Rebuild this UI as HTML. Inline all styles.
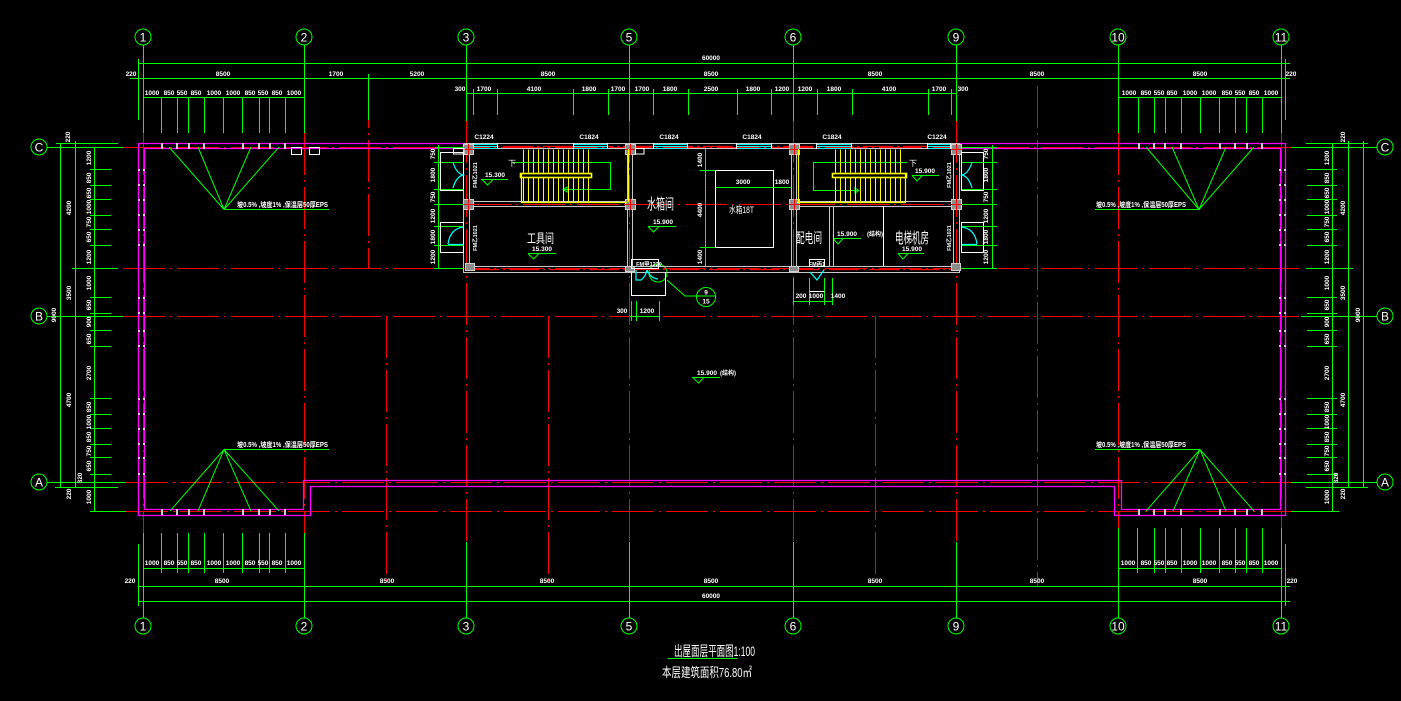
<!DOCTYPE html>
<html><head><meta charset="utf-8"><style>
html,body{margin:0;padding:0;background:#000;}
svg{display:block;}
text{font-family:"Liberation Sans","Noto Sans CJK SC",sans-serif;fill:#fff;}
.d{font-size:6.5px;font-weight:bold;text-anchor:middle;}
.g{font-size:12px;text-anchor:middle;}
.c{font-family:"Noto Sans CJK SC","WenQuanYi Zen Hei",sans-serif;}
</style></head><body>
<svg width="1401" height="701" viewBox="0 0 1401 701" xmlns="http://www.w3.org/2000/svg">
<defs>
<pattern id="trL" patternUnits="userSpaceOnUse" x="523" y="0" width="5" height="40"><path d="M0.5 0V40" stroke="#ff0" stroke-width="1"/></pattern>
<pattern id="trR" patternUnits="userSpaceOnUse" x="835" y="0" width="5" height="40"><path d="M0.5 0V40" stroke="#ff0" stroke-width="1"/></pattern>
</defs>
<rect width="1401" height="701" fill="#000"/>

<!-- RED AXIS LINES -->
<g stroke="#f00" stroke-width="1" fill="none" stroke-dasharray="42 5 2 5">
<path d="M123 147.5H1291M123 268.5H1300M123 316.5H1300M126 482.5H1295M126 511.5H1295M469 204.5H954"/>
<path d="M143.5 133V533M304.5 133V533M368.5 86V268M386.5 316V587M466.5 121V542M548.5 316V587M629.5 121V542M793.5 121V542M875.5 316V587M956.5 121V542M1037.5 86V587M1118.5 133V528M1281.5 133V528"/>
</g>

<!-- MAGENTA OUTLINE -->
<g stroke="#f0f" stroke-width="1.3" fill="none">
<path d="M463 143.5H138.5V515.5H310.5V486.5H1114.5V515.5H1285.5V143.5H960"/>
<path d="M463 148.5H144.5V509.5H303.5V480.5H1121.5V509.5H1280.5V148.5H960"/>
</g>

<!-- white marks on parapet -->
<g stroke="#fff" stroke-width="1.6">
<path d="M162 143V149M177 143V149M189 143V149M204 143V149M243 143V149M259 143V149M270 143V149M285 143V149"/>
<path d="M1139 143V149M1154 143V149M1165 143V149M1181 143V149M1220 143V149M1235 143V149M1247 143V149M1262 143V149"/>
<path d="M162 509V515M177 509V515M189 509V515M204 509V515M243 509V515M259 509V515M270 509V515M285 509V515"/>
<path d="M1139 509V515M1154 509V515M1165 509V515M1181 509V515M1220 509V515M1235 509V515M1247 509V515M1262 509V515"/>
</g>
<g stroke="#fff" stroke-width="1.6" stroke-dasharray="2 3">
<path d="M138 170H145M138 185H145M138 200H145M138 215H145M138 230H145M138 245H145M138 298H145M138 313H145M138 331H145M138 346H145M138 399H145M138 414H145M138 429H145M138 444H145M138 458H145M138 474H145"/>
<path d="M1279 170H1286M1279 185H1286M1279 200H1286M1279 215H1286M1279 230H1286M1279 245H1286M1279 298H1286M1279 313H1286M1279 331H1286M1279 346H1286M1279 399H1286M1279 414H1286M1279 429H1286M1279 444H1286M1279 458H1286M1279 474H1286"/>
</g>
<g stroke="#fff" stroke-width="1" fill="none">
<rect x="291.5" y="147.5" width="10" height="7"/><rect x="309.5" y="147.5" width="10" height="7"/>
</g>

<!-- GREEN GRID / DIM LINES -->
<g stroke="#0f0" stroke-width="1" fill="none">
<circle cx="143" cy="37" r="8"/><circle cx="304" cy="37" r="8"/><circle cx="466" cy="37" r="8"/><circle cx="629" cy="37" r="8"/><circle cx="793" cy="37" r="8"/><circle cx="956" cy="37" r="8"/><circle cx="1118" cy="37" r="8"/><circle cx="1281" cy="37" r="8"/>
<circle cx="143" cy="626" r="8"/><circle cx="304" cy="626" r="8"/><circle cx="466" cy="626" r="8"/><circle cx="629" cy="626" r="8"/><circle cx="793" cy="626" r="8"/><circle cx="956" cy="626" r="8"/><circle cx="1118" cy="626" r="8"/><circle cx="1281" cy="626" r="8"/>
<circle cx="39" cy="147" r="8"/><circle cx="39" cy="316" r="8"/><circle cx="39" cy="482" r="8"/>
<circle cx="1385" cy="147" r="8"/><circle cx="1385" cy="316" r="8"/><circle cx="1385" cy="482" r="8"/>
<path d="M143.5 45V133M304.5 45V133M466.5 45V121M629.5 45V121M793.5 45V121M956.5 45V121M1118.5 45V133M1281.5 45V133"/>
<path d="M143.5 533V618M304.5 533V618M466.5 542V618M629.5 542V618M793.5 542V618M956.5 542V618M1118.5 528V618M1281.5 528V618"/>
<!-- top dims -->
<path d="M138 63.5H1290M130 78.5H1290M143 97.5H304M1118 97.5H1281M466 93.5H957"/>
<path d="M138.5 59V120M1285.5 59V120M368.5 74V120"/>
<path d="M161.5 97V133M177.5 97V133M188.5 97V133M204.5 97V133M223.5 97V133M242.5 97V133M259.5 97V133M269.5 97V133M285.5 97V133"/>
<path d="M1138.5 97V133M1154.5 97V133M1165.5 97V133M1181.5 97V133M1200.5 97V133M1219.5 97V133M1235.5 97V133M1246.5 97V133M1262.5 97V133"/>
<path d="M473.5 89V115M497.5 89V115M573.5 89V115M608.5 89V115M653.5 89V115M688.5 89V115M737.5 89V115M771.5 89V115M817.5 89V115M852.5 89V115M928.5 89V115M951.5 89V115"/>
<!-- bottom dims -->
<path d="M143 568.5H304M1118 568.5H1281M138 586.5H1290M138 601.5H1290M138.5 544V606M1285.5 544V606"/>
<path d="M161.5 533V573M177.5 533V573M188.5 533V573M204.5 533V573M223.5 533V573M242.5 533V573M259.5 533V573M269.5 533V573M285.5 533V573"/>
<path d="M1137.5 528V573M1154.5 528V573M1165.5 528V573M1181.5 528V573M1200.5 528V573M1219.5 528V573M1235.5 528V573M1246.5 528V573M1262.5 528V573"/>
<!-- left dims -->
<path d="M47 147.5H123M56 143.5H118M47 316.5H123M47 482.5H126M55 487.5H118M72 268.5H118M90 511.5H126"/>
<path d="M60.5 143V487M75.5 141V487M94.5 147V511"/>
<path d="M90 169.5H111M90 185.5H111M90 199.5H111M90 215.5H111M90 229.5H111M90 245.5H111M90 297.5H111M90 313.5H111M90 330.5H111M90 346.5H111M90 398.5H111M90 414.5H111M90 428.5H111M90 444.5H111M90 457.5H111M90 474.5H111"/>
<!-- right dims -->
<path d="M1291 147.5H1377M1306 143.5H1368M1301 316.5H1377M1291 482.5H1377M1306 487.5H1368M1306 268.5H1353M1291 511.5H1339"/>
<path d="M1332.5 143V511M1348.5 141V487M1363.5 141V487"/>
<path d="M1307 169.5H1337M1307 185.5H1337M1307 199.5H1337M1307 215.5H1337M1307 229.5H1337M1307 245.5H1337M1307 297.5H1337M1307 313.5H1337M1307 330.5H1337M1307 346.5H1337M1307 398.5H1337M1307 414.5H1337M1307 428.5H1337M1307 444.5H1337M1307 457.5H1337M1307 474.5H1337"/>
<!-- fans -->
<path d="M169 147L224 209.5L198 147M251 147L224 209.5L279 147M224 209.5H329"/>
<path d="M170 511L224 449.5L198 511M251 511L224 449.5L279 511M224 449.5H329"/>
<path d="M1146 147L1199 209.5L1172 147M1226 147L1199 209.5L1254 147M1095 209.5H1199"/>
<path d="M1146 511L1200 449.5L1173 511M1226 511L1200 449.5L1254 511M1095 449.5H1200"/>
<!-- core side dims -->
<path d="M438.5 145V268M434 162.5H463M434 189.5H463M434 204.5H463M434 226.5H463M434 245.5H463M434 268.5H463M435 147.5H463"/>
<path d="M992.5 145V268M961 162.5H997M961 189.5H997M961 204.5H997M961 226.5H997M961 245.5H997M961 268.5H997M960 147.5H997"/>
<!-- water tank dims -->
<path d="M705.5 149V267M700 170.5H716M700 247.5H716M700 266.5H717M716 187.5H791"/>
<!-- stair walk lines -->
<path d="M513 162.5H610.5V189.5H563M563 189.5l4 -2.5v5z"/>
<path d="M907 162.5H813.5V190.5H859M859 190.5l-4 -2.5v5z"/>
<!-- bottom door dims -->
<path d="M630 316.5H659M631.5 301V321M636.5 301V321M659.5 301V321"/>
<path d="M793 301.5H832M793.5 278V305M809.5 278V305M824.5 278V305M832.5 278V305"/>
<!-- detail callout -->
<circle cx="658" cy="273" r="9"/>
<circle cx="706" cy="297" r="9.5"/>
<path d="M667 280L685 296H716"/>
<!-- title underline -->
<path d="M668 658.5H737"/>
</g>

<!-- level marks -->
<g stroke="#0f0" stroke-width="1" fill="none">
<path d="M481 179.5H508M482 179.5L487.5 185L493 179.5"/>
<path d="M528 253.5H556M528 253.5L533.5 259L539 253.5"/>
<path d="M648 226.5H676M648 226.5L653.5 232L659 226.5"/>
<path d="M912 175.5H939M912 175.5L917 181L922 175.5"/>
<path d="M833 238.5H861M833 238.5L838 244L843 238.5"/>
<path d="M898 253.5H924M898 253.5L903 259L908 253.5"/>
<path d="M692 377.5H720M693 377.5L698.5 383L704 377.5"/>
</g>

<!-- CORE WALLS -->
<g stroke="#c8c8c8" stroke-width="1" fill="none">
<path d="M463 143.5H960M469 148.5H954M463.5 143V273M469.5 149V267M959.5 143V273M953.5 149V267M463 272.5H960M469 266.5H954"/>
<path d="M627.5 149V266M632.5 149V266M791.5 149V266M796.5 149V266"/>
<path d="M469 201.5H627M469 206.5H627M796 201.5H954M796 206.5H954"/>
<path d="M829.5 206V266M833.5 206V266"/>
</g>
<path d="M883.5 206V266" stroke="#fff" stroke-width="1"/>
<!-- red through core -->
<g stroke="#f00" stroke-width="1.2" stroke-dasharray="30 4 2 4">
<path d="M463 146.5H960M469 269.5H954"/>
</g>
<!-- windows -->
<g stroke="#0ff" stroke-width="1">
<path d="M473 144.5H497M473 146.5H497M473 148.5H497"/>
<path d="M573 144.5H607M573 146.5H607M573 148.5H607"/>
<path d="M653 144.5H687M653 146.5H687M653 148.5H687"/>
<path d="M736 144.5H771M736 146.5H771M736 148.5H771"/>
<path d="M816 144.5H851M816 146.5H851M816 148.5H851"/>
<path d="M927 144.5H950M927 146.5H950M927 148.5H950"/>
</g>
<g stroke="#fff" stroke-width="1">
<path d="M473.5 143V149M497.5 143V149M573.5 143V149M607.5 143V149M653.5 143V149M687.5 143V149M736.5 143V149M771.5 143V149M816.5 143V149M851.5 143V149M927.5 143V149M950.5 143V149"/>
</g>

<!-- columns -->
<g fill="#8c8c8c" stroke="#d0d0d0" stroke-width="1">
<rect x="463.5" y="144.5" width="10" height="10"/><rect x="625.5" y="144.5" width="10" height="10"/><rect x="789.5" y="144.5" width="10" height="10"/><rect x="951.5" y="144.5" width="10" height="10"/>
<rect x="463.5" y="199.5" width="10" height="10"/><rect x="625.5" y="199.5" width="10" height="10"/><rect x="789.5" y="199.5" width="10" height="10"/><rect x="951.5" y="199.5" width="10" height="10"/>
<rect x="465.5" y="263.5" width="9" height="7"/><rect x="625.5" y="266.5" width="9" height="5"/><rect x="789.5" y="266.5" width="9" height="5"/><rect x="951.5" y="263.5" width="9" height="7"/>
</g>
<g stroke="#f00" stroke-width="1">
<path d="M468.5 144V155M463 149.5H474M630.5 144V155M625 149.5H636M794.5 144V155M789 149.5H800M956.5 144V155M951 149.5H962"/>
<path d="M468.5 199V210M463 204.5H474M630.5 199V210M625 204.5H636M794.5 199V210M789 204.5H800M956.5 199V210M951 204.5H962"/>
</g>

<!-- STAIRS -->
<rect x="523" y="149.5" width="66" height="23" fill="url(#trL)"/>
<rect x="523" y="178" width="66" height="24" fill="url(#trL)"/>
<rect x="835" y="149.5" width="68" height="23" fill="url(#trR)"/>
<rect x="835" y="178" width="68" height="24" fill="url(#trR)"/>
<g stroke="#ff0" fill="none">
<rect x="520.5" y="173.5" width="71" height="4" stroke-width="1.6"/>
<path d="M521.5 173V202.5H627M628.5 149V202" stroke-width="1.2"/>
<rect x="832.5" y="173.5" width="74" height="4" stroke-width="1.6"/>
<path d="M905.5 173V202.5H797M798.5 149V202" stroke-width="1.2"/>
</g>

<!-- doors outside core -->
<g stroke="#fff" stroke-width="1" fill="none">
<rect x="440.5" y="152.5" width="23" height="38"/>
<rect x="440.5" y="222.5" width="23" height="30"/>
<rect x="961.5" y="152.5" width="22" height="38"/>
<rect x="961.5" y="222.5" width="22" height="30"/>
<path d="M453.5 148.5H464V154H453.5z"/>
<path d="M635.5 148.5H644V154H635.5z"/>
<rect x="715.5" y="170.5" width="58" height="77"/>
<rect x="631.5" y="259.5" width="27" height="9"/>
<path d="M631.5 272V295.5H665.5V272"/>
<rect x="809.5" y="259.5" width="15" height="7"/>
<path d="M809.5 291.5H824.5"/>
</g>
<g stroke="#0ff" stroke-width="1.2" fill="none">
<path d="M453 162Q456 173 463 175Q456 177 453 188"/>
<path d="M448 244Q450 229 463 227M448 244.5H463"/>
<path d="M972 162Q969 173 962 175Q969 177 972 188"/>
<path d="M977 244Q975 229 962 227M977 244.5H962"/>
<path d="M636 270V280H641Q646 276 647 270M647 270Q650 278 658 279"/>
<path d="M810 272L817 280L824 270"/>
</g>

<!-- TEXT: grid labels -->
<g class="g">
<text x="143" y="41.5">1</text><text x="304" y="41.5">2</text><text x="466" y="41.5">3</text><text x="629" y="41.5">5</text><text x="793" y="41.5">6</text><text x="956" y="41.5">9</text><text x="1118" y="41.5">10</text><text x="1281" y="41.5">11</text>
<text x="143" y="630.5">1</text><text x="304" y="630.5">2</text><text x="466" y="630.5">3</text><text x="629" y="630.5">5</text><text x="793" y="630.5">6</text><text x="956" y="630.5">9</text><text x="1118" y="630.5">10</text><text x="1281" y="630.5">11</text>
<text x="39" y="151.5">C</text><text x="39" y="320.5">B</text><text x="39" y="486.5">A</text>
<text x="1385" y="151.5">C</text><text x="1385" y="320.5">B</text><text x="1385" y="486.5">A</text>
</g>

<!-- TEXT: top dims -->
<g class="d">
<text x="711" y="60">60000</text>
<text x="131" y="76">220</text><text x="223" y="76">8500</text><text x="336" y="76">1700</text><text x="417" y="76">5200</text><text x="548" y="76">8500</text><text x="711" y="76">8500</text><text x="875" y="76">8500</text><text x="1037" y="76">8500</text><text x="1200" y="76">8500</text><text x="1291" y="76">220</text>
<text x="152" y="95">1000</text><text x="169" y="95">850</text><text x="182" y="95">550</text><text x="196" y="95">850</text><text x="214" y="95">1000</text><text x="233" y="95">1000</text><text x="250" y="95">850</text><text x="263" y="95">550</text><text x="277" y="95">850</text><text x="294" y="95">1000</text>
<text x="1129" y="95">1000</text><text x="1146" y="95">850</text><text x="1159" y="95">550</text><text x="1172" y="95">850</text><text x="1190" y="95">1000</text><text x="1209" y="95">1000</text><text x="1227" y="95">850</text><text x="1240" y="95">550</text><text x="1254" y="95">850</text><text x="1271" y="95">1000</text>
<text x="460" y="91">300</text><text x="484" y="91">1700</text><text x="534" y="91">4100</text><text x="589" y="91">1800</text><text x="618" y="91">1700</text><text x="642" y="91">1700</text><text x="670" y="91">1800</text><text x="711" y="91">2500</text><text x="753" y="91">1800</text><text x="782" y="91">1200</text><text x="805" y="91">1200</text><text x="834" y="91">1800</text><text x="889" y="91">4100</text><text x="939" y="91">1700</text><text x="963" y="91">300</text>
<!-- bottom -->
<text x="152" y="565">1000</text><text x="169" y="565">850</text><text x="182" y="565">550</text><text x="196" y="565">850</text><text x="214" y="565">1000</text><text x="233" y="565">1000</text><text x="250" y="565">850</text><text x="263" y="565">550</text><text x="277" y="565">850</text><text x="294" y="565">1000</text>
<text x="1128" y="565">1000</text><text x="1146" y="565">850</text><text x="1159" y="565">550</text><text x="1172" y="565">850</text><text x="1190" y="565">1000</text><text x="1209" y="565">1000</text><text x="1227" y="565">850</text><text x="1240" y="565">550</text><text x="1254" y="565">850</text><text x="1271" y="565">1000</text>
<text x="130" y="583">220</text><text x="222" y="583">8500</text><text x="387" y="583">8500</text><text x="547" y="583">8500</text><text x="711" y="583">8500</text><text x="875" y="583">8500</text><text x="1037" y="583">8500</text><text x="1200" y="583">8500</text><text x="1292" y="583">220</text>
<text x="711" y="598">60000</text>
<!-- small core dims -->
<text x="622" y="313">300</text><text x="647" y="313">1200</text>
<text x="801" y="298">200</text><text x="816" y="298">1000</text><text x="838" y="298">1400</text>
<text x="743" y="184">3000</text><text x="782" y="184">1800</text>
<text x="495" y="177">15.300</text><text x="542" y="251">15.300</text><text x="663" y="224">15.900</text><text x="925" y="173">15.900</text><text x="847" y="236">15.900</text><text x="912" y="251">15.900</text><text x="707" y="375">15.900</text>
<text x="706" y="294.5">9</text><text x="706" y="303.5">15</text>
<text x="484" y="139">C1224</text><text x="589" y="139">C1824</text><text x="669" y="139">C1824</text><text x="752" y="139">C1824</text><text x="832" y="139">C1824</text><text x="937" y="139">C1224</text>
<text x="649" y="266" style="font-size:5.5px">FM甲1220</text>
<text x="817" y="266" style="font-size:5.5px">FM丙1</text>
</g>
<g class="d c" style="font-size:6px">
<text x="875" y="236">(结构)</text><text x="728" y="375">(结构)</text>
</g>

<!-- rotated dims -->
<g class="d">
<text transform="translate(70 137) rotate(-90)">220</text>
<text transform="translate(71 208) rotate(-90)">4200</text>
<text transform="translate(71 293) rotate(-90)">3500</text>
<text transform="translate(71 400) rotate(-90)">4700</text>
<text transform="translate(56 315) rotate(-90)">9000</text>
<text transform="translate(82 478) rotate(-90)">320</text>
<text transform="translate(71 494) rotate(-90)">220</text>
<text transform="translate(91 158) rotate(-90)">1200</text><text transform="translate(91 178) rotate(-90)">850</text><text transform="translate(91 193) rotate(-90)">650</text><text transform="translate(91 207) rotate(-90)">1000</text><text transform="translate(91 222) rotate(-90)">750</text><text transform="translate(91 237) rotate(-90)">650</text><text transform="translate(91 257) rotate(-90)">1200</text><text transform="translate(91 283) rotate(-90)">1000</text><text transform="translate(91 305) rotate(-90)">650</text><text transform="translate(91 322) rotate(-90)">900</text><text transform="translate(91 339) rotate(-90)">650</text><text transform="translate(91 373) rotate(-90)">2700</text><text transform="translate(91 407) rotate(-90)">850</text><text transform="translate(91 422) rotate(-90)">1000</text><text transform="translate(91 437) rotate(-90)">850</text><text transform="translate(91 451) rotate(-90)">750</text><text transform="translate(91 466) rotate(-90)">650</text><text transform="translate(91 497) rotate(-90)">1000</text>
<text transform="translate(1345 137) rotate(-90)">220</text>
<text transform="translate(1345 208) rotate(-90)">4200</text>
<text transform="translate(1345 293) rotate(-90)">3500</text>
<text transform="translate(1345 400) rotate(-90)">4700</text>
<text transform="translate(1360 315) rotate(-90)">9000</text>
<text transform="translate(1338 478) rotate(-90)">320</text>
<text transform="translate(1345 494) rotate(-90)">220</text>
<text transform="translate(1329 158) rotate(-90)">1200</text><text transform="translate(1329 178) rotate(-90)">850</text><text transform="translate(1329 193) rotate(-90)">650</text><text transform="translate(1329 207) rotate(-90)">1000</text><text transform="translate(1329 222) rotate(-90)">750</text><text transform="translate(1329 237) rotate(-90)">650</text><text transform="translate(1329 257) rotate(-90)">1200</text><text transform="translate(1329 283) rotate(-90)">1000</text><text transform="translate(1329 305) rotate(-90)">650</text><text transform="translate(1329 322) rotate(-90)">900</text><text transform="translate(1329 339) rotate(-90)">650</text><text transform="translate(1329 373) rotate(-90)">2700</text><text transform="translate(1329 407) rotate(-90)">850</text><text transform="translate(1329 422) rotate(-90)">1000</text><text transform="translate(1329 437) rotate(-90)">850</text><text transform="translate(1329 451) rotate(-90)">750</text><text transform="translate(1329 466) rotate(-90)">650</text><text transform="translate(1329 497) rotate(-90)">1000</text>
<text transform="translate(435 154) rotate(-90)">750</text><text transform="translate(435 175) rotate(-90)">1800</text><text transform="translate(435 197) rotate(-90)">750</text><text transform="translate(435 216) rotate(-90)">1200</text><text transform="translate(435 237) rotate(-90)">1800</text><text transform="translate(435 257) rotate(-90)">1200</text>
<text transform="translate(988 154) rotate(-90)">750</text><text transform="translate(988 175) rotate(-90)">1800</text><text transform="translate(988 197) rotate(-90)">750</text><text transform="translate(988 216) rotate(-90)">1200</text><text transform="translate(988 237) rotate(-90)">1800</text><text transform="translate(988 257) rotate(-90)">1200</text>
<text transform="translate(702 160) rotate(-90)">1400</text><text transform="translate(702 210) rotate(-90)">4400</text><text transform="translate(702 257) rotate(-90)">1400</text>
<text transform="translate(477 175) rotate(-90)" style="font-size:5.5px">FM乙1021</text>
<text transform="translate(477 238) rotate(-90)" style="font-size:5.5px">FM乙1021</text>
<text transform="translate(951 175) rotate(-90)" style="font-size:5.5px">FM乙1021</text>
<text transform="translate(951 238) rotate(-90)" style="font-size:5.5px">FM乙1021</text>
</g>

<!-- fan notes -->
<g class="c" style="font-size:7px;font-weight:bold">
<text x="237" y="207" textLength="91" lengthAdjust="spacingAndGlyphs">坡0.5% ,坡度1% ,保温层50厚EPS</text>
<text x="237" y="447" textLength="91" lengthAdjust="spacingAndGlyphs">坡0.5% ,坡度1% ,保温层50厚EPS</text>
<text x="1096" y="207" textLength="90" lengthAdjust="spacingAndGlyphs">坡0.5% ,坡度1% ,保温层50厚EPS</text>
<text x="1096" y="447" textLength="90" lengthAdjust="spacingAndGlyphs">坡0.5% ,坡度1% ,保温层50厚EPS</text>
</g>

<!-- room labels -->
<g class="c">
<text x="508" y="166" style="font-size:8px">下</text>
<text x="909" y="166" style="font-size:8px">下</text>
<text x="527" y="243" style="font-size:13px" textLength="27" lengthAdjust="spacingAndGlyphs">工具间</text>
<text x="647" y="209" style="font-size:15px" textLength="27" lengthAdjust="spacingAndGlyphs">水箱间</text>
<text x="729" y="213" style="font-size:9px" textLength="25" lengthAdjust="spacingAndGlyphs">水箱18T</text>
<text x="796" y="243" style="font-size:14px" textLength="26" lengthAdjust="spacingAndGlyphs">配电间</text>
<text x="895" y="243" style="font-size:15px" textLength="34" lengthAdjust="spacingAndGlyphs">电梯机房</text>
<text x="674" y="656" style="font-size:14px" textLength="81" lengthAdjust="spacingAndGlyphs">出屋面层平面图1:100</text>
<text x="662" y="677" style="font-size:13px" textLength="90" lengthAdjust="spacingAndGlyphs">本层建筑面积76.80㎡</text>
</g>
</svg>
</body></html>
